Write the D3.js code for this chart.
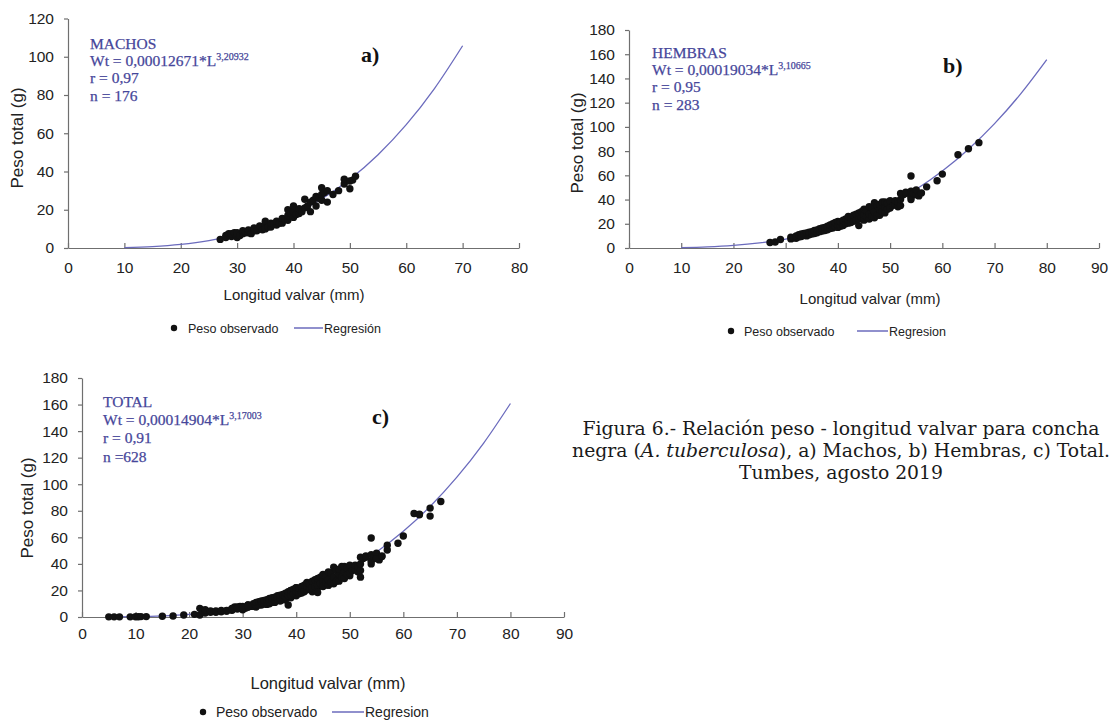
<!DOCTYPE html>
<html>
<head>
<meta charset="utf-8">
<script src="https://cdn.jsdelivr.net/npm/d3@7"></script>
<style>
  body { margin: 0; background: #fff; }
  svg { display: block; }
  .axis path, .axis line { stroke: #6f6f6f; stroke-width: 1.2; }
  .axis text { font-family: 'Liberation Sans', Arial, sans-serif; font-size: 15.5px; fill: #222; }
  .axis-label { font-family: 'Liberation Sans', Arial, sans-serif; fill: #222; }
  .legend text { font-family: 'Liberation Sans', Arial, sans-serif; fill: #222; }
  .ann { font-family: 'Liberation Serif', 'Times New Roman', serif; fill: #46469a; stroke: #46469a; stroke-width: 0.25; }
  .tag { font-family: 'Liberation Serif', 'Times New Roman', serif; font-weight: bold; fill: #111; }
  .caption { font-family: 'DejaVu Serif', serif; fill: #1a1a1a; }
</style>
</head>
<body>
<svg id="fig" width="1111" height="720"></svg>
<script>
// observed weights [length mm, weight g]
const machos = [
  [27,4.5],[28,6.5],[28,5.5],[28.5,7.5],[29,6],[29,7.5],[29.5,8],[30,5.5],[30,7],[30,8],
  [30.5,6.5],[31,7.5],[31,9],[31.5,8],[32,8],[32,9.5],[32.5,7.5],[33,9],[33,10.5],[33.5,9],
  [34,10],[34,11.5],[34.5,9.5],[35,12],[35,10],[35,14],[35.5,11],[36,11],[36,13],[36.5,12.5],
  [37,12],[37,14],[37.5,13],[38,13],[38,15.5],[38.5,15],[39,14.5],[39,17],[39,20],[39.5,18],
  [40,16],[40,19],[40,22],[40.5,17.5],[41,18],[41,20.5],[41.5,19],[42,21],[42,25.5],[42.5,22],
  [43,19],[43,24],[43.5,25],[44,22],[44,27],[44.5,26],[45,25],[45,28],[45,31.5],[45.5,29],
  [46,24],[46,30],[47,28],[48,30],[49,33.5],[49,36],[50,31],[50,35],[50.5,35.5],[51,37.5]
];

const hembras = [
  [27,4.5],[28,5],[29,7],
  [31,7.5],[31,9],[31.5,8.5],[32,8],[32,10],[32.5,9],[32.5,11],[33,9.5],[33,11.5],[33.5,10.5],[33.5,12],
  [34,10],[34,12.5],[34.5,11],[34.5,13],[35,11.5],[35,13.5],[35.5,12],[35.5,14.5],[36,12.5],[36,15],
  [36.5,13.5],[36.5,16],[37,14],[37,16.5],[37.5,14.5],[37.5,17],[38,15],[38,18],[38.5,16],[38.5,19],
  [39,16.5],[39,20],[39.5,17.5],[39.5,21],[40,17],[40,19],[40,22],[40.5,18],[40.5,21.5],[41,18.5],
  [41,23],[41.5,20],[41.5,24],[42,20.5],[42,23],[42,26],[42.5,21],[42.5,25],[43,22],[43,27],
  [43.5,23],[43.5,28],[44,18.5],[44,24],[44,29],[44.5,25],[44.5,30],[45,23],[45,27],[45,32],
  [45.5,26],[45.5,31],[46,24],[46,28],[46,34],[46.5,26],[46.5,33],[47,25],[47,30],[47,37.5],
  [47.5,27],[47.5,35],[48,27],[48,32],[48,36],[48.5,30],[48.5,38],[49,29],[49,34],[49,38],
  [49.5,32],[49.5,37],[50,33],[50,39],[50.5,35],[51,36],[51,39],[51.5,34],[51.5,38],[52,35],
  [52,40],[52,45],[52.5,44],[53,45],[53,46],[54,40],[54,42],[54,47],[54,59.5],[54.5,45],
  [55,44],[55,48],[55.5,43],[56,45.5],[57,50.5],[59,55.5],[60,61],[63,77],[65,82],[67,87]
];

// individuals of undetermined sex, only in the total
const indeterminados = [
  [5,0.1],[6,0.1],[7,0.1],[9,0.1],[10,0.2],[10.5,0.2],[11,0.3],[12,0.3],[15,0.6],[17,0.8],
  [19,1.5],[21,2],[22,1.5],[22,6.5],[22.5,5],[23,3],[23,5.5],[24,3.5],[24,4.5],[25,3.5],
  [25,4.5],[26,4],[26,5],[27,5],[28,6],[29,6.5],[30,7],[31,8],[38.5,9],[52,30],
  [55,44],[56,46],[57,54],[62,78],[63,77.5],[65,76]
];
const total = machos.concat(hembras, indeterminados);

// fitted curves
const regMachosL = [10,15,20,25,30,35,40,45,50,55,60,65,70];
const regMachosW = [0.21,0.75,1.9,3.88,6.97,11.44,17.55,25.62,35.92,48.78,64.48,83.38,105.76];
const regHembrasL = [10,15,20,25,30,35,40,45,50,55,60,65,70,75,80];
const regHembrasW = [0.24,0.86,2.1,4.19,7.39,11.92,18.05,26.03,36.12,48.56,63.62,81.6,102.7,127.25,155.5];
const regTotalL = [5,10,15,20,25,30,35,40,45,50,55,60,65,70,75,80];
const regTotalW = [0.02,0.22,0.8,1.98,4.03,7.17,11.7,17.86,25.94,36.23,49.02,64.58,83.24,105.29,131,160.8];

const svg = d3.select('#fig');

const drawPanel = (parent, props) => {
  const {
    left, top, width, height,
    xMax, yMax, points, regL, regW,
    xPad, yLabelPos, xLabelPos, labelSize,
    ann, tag, legend
  } = props;

  const g = parent.append('g')
    .attr('transform', `translate(${left},${top})`);

  const xScale = d3.scaleLinear().domain([0, xMax]).range([0, width]);
  const yScale = d3.scaleLinear().domain([0, yMax]).range([height, 0]);

  // x-axis, ticks pointing up like the original
  g.append('g')
      .attr('class', 'axis')
      .attr('transform', `translate(0,${height})`)
    .call(d3.axisBottom(xScale)
      .tickValues(d3.range(0, xMax + 1, 10))
      .tickSizeInner(-5)
      .tickSizeOuter(0)
      .tickPadding(xPad));

  g.append('g')
      .attr('class', 'axis')
    .call(d3.axisLeft(yScale)
      .tickValues(d3.range(0, yMax + 1, 20))
      .tickSizeInner(4)
      .tickSizeOuter(0)
      .tickPadding(10));

  // regression curve
  const line = d3.line()
    .x(d => xScale(d[0]))
    .y(d => yScale(d[1]))
    .curve(d3.curveMonotoneX);
  g.append('path')
    .datum(d3.zip(regL, regW))
    .attr('d', line)
    .attr('fill', 'none')
    .attr('stroke', '#6b6bbd')
    .attr('stroke-width', 1.3);

  g.selectAll('circle').data(points)
    .enter().append('circle')
      .attr('cx', d => xScale(d[0]))
      .attr('cy', d => yScale(d[1]))
      .attr('r', 3.7)
      .attr('fill', '#111');

  // axis titles (absolute coords)
  parent.append('text')
      .attr('class', 'axis-label')
      .attr('transform', `translate(${yLabelPos[0]},${yLabelPos[1]}) rotate(-90)`)
      .attr('text-anchor', 'middle')
      .attr('font-size', 17)
      .text('Peso total (g)');
  parent.append('text')
      .attr('class', 'axis-label')
      .attr('x', xLabelPos[0])
      .attr('y', xLabelPos[1])
      .attr('text-anchor', 'middle')
      .attr('font-size', labelSize)
      .text('Longitud valvar (mm)');

  // equation block
  const a = parent.append('g').attr('class', 'ann').attr('font-size', 15.5);
  a.append('text').attr('x', ann.x).attr('y', ann.ys[0]).text(ann.title);
  const eq = a.append('text').attr('x', ann.x).attr('y', ann.ys[1]);
  eq.append('tspan').text(ann.eq);
  eq.append('tspan').attr('dy', -6).attr('font-size', 10).text(ann.exp);
  a.append('text').attr('x', ann.x).attr('y', ann.ys[2]).text(ann.r);
  a.append('text').attr('x', ann.x).attr('y', ann.ys[3]).text(ann.n);

  parent.append('text')
      .attr('class', 'tag')
      .attr('x', tag.x)
      .attr('y', tag.y)
      .attr('font-size', 22)
      .text(tag.text);

  // legend
  const lg = parent.append('g').attr('class', 'legend');
  lg.append('circle')
      .attr('cx', legend.dot)
      .attr('cy', legend.y)
      .attr('r', 3.2)
      .attr('fill', '#111');
  lg.append('text')
      .attr('x', legend.text1)
      .attr('y', legend.y + 4.5)
      .attr('font-size', legend.size)
      .text('Peso observado');
  lg.append('line')
      .attr('x1', legend.line[0])
      .attr('x2', legend.line[1])
      .attr('y1', legend.y)
      .attr('y2', legend.y)
      .attr('stroke', '#6b6bbd')
      .attr('stroke-width', 1.5);
  lg.append('text')
      .attr('x', legend.text2)
      .attr('y', legend.y + 4.5)
      .attr('font-size', legend.size)
      .text(legend.label);
};

drawPanel(svg, {
  left: 68, top: 18.5, width: 451, height: 229.5,
  xMax: 80, yMax: 120, points: machos,
  regL: regMachosL, regW: regMachosW,
  xPad: 14, labelSize: 15,
  yLabelPos: [23, 138], xLabelPos: [294, 300],
  ann: { x: 90, ys: [49, 66, 83, 101], title: 'MACHOS',
         eq: 'Wt = 0,00012671*L', exp: '3,20932', r: 'r = 0,97', n: 'n = 176' },
  tag: { x: 361, y: 62, text: 'a)' },
  legend: { y: 328, dot: 174, text1: 188, line: [294, 323], text2: 324, label: 'Regresión', size: 12.5 }
});

drawPanel(svg, {
  left: 629, top: 30, width: 470, height: 218,
  xMax: 90, yMax: 180, points: hembras,
  regL: regHembrasL, regW: regHembrasW,
  xPad: 14, labelSize: 15,
  yLabelPos: [583, 143], xLabelPos: [870, 304],
  ann: { x: 652, ys: [58, 75, 92, 110], title: 'HEMBRAS',
         eq: 'Wt = 0,00019034*L', exp: '3,10665', r: 'r = 0,95', n: 'n = 283' },
  tag: { x: 943, y: 73, text: 'b)' },
  legend: { y: 331, dot: 731, text1: 744, line: [857, 888], text2: 889, label: 'Regresion', size: 12.5 }
});

drawPanel(svg, {
  left: 82, top: 378, width: 482, height: 239,
  xMax: 90, yMax: 180, points: total,
  regL: regTotalL, regW: regTotalW,
  xPad: 11, labelSize: 16.5,
  yLabelPos: [33, 508], xLabelPos: [328, 689],
  ann: { x: 103, ys: [407, 425, 443, 462], title: 'TOTAL',
         eq: 'Wt = 0,00014904*L', exp: '3,17003', r: 'r = 0,91', n: 'n =628' },
  tag: { x: 372, y: 424, text: 'c)' },
  legend: { y: 712, dot: 203, text1: 216, line: [332, 364], text2: 365, label: 'Regresion', size: 14 }
});

// figure caption
const cap = svg.append('text')
    .attr('class', 'caption')
    .attr('text-anchor', 'middle')
    .attr('font-size', 18.8);
cap.append('tspan').attr('x', 841).attr('y', 435)
    .text('Figura 6.- Relación peso - longitud valvar para concha');
const l2 = cap.append('tspan').attr('x', 841).attr('y', 457);
l2.append('tspan').text('negra (');
l2.append('tspan').attr('font-style', 'italic').text('A. tuberculosa');
l2.append('tspan').text('), a) Machos, b) Hembras, c) Total.');
cap.append('tspan').attr('x', 841).attr('y', 479)
    .text('Tumbes, agosto 2019');
</script>
</body>
</html>
